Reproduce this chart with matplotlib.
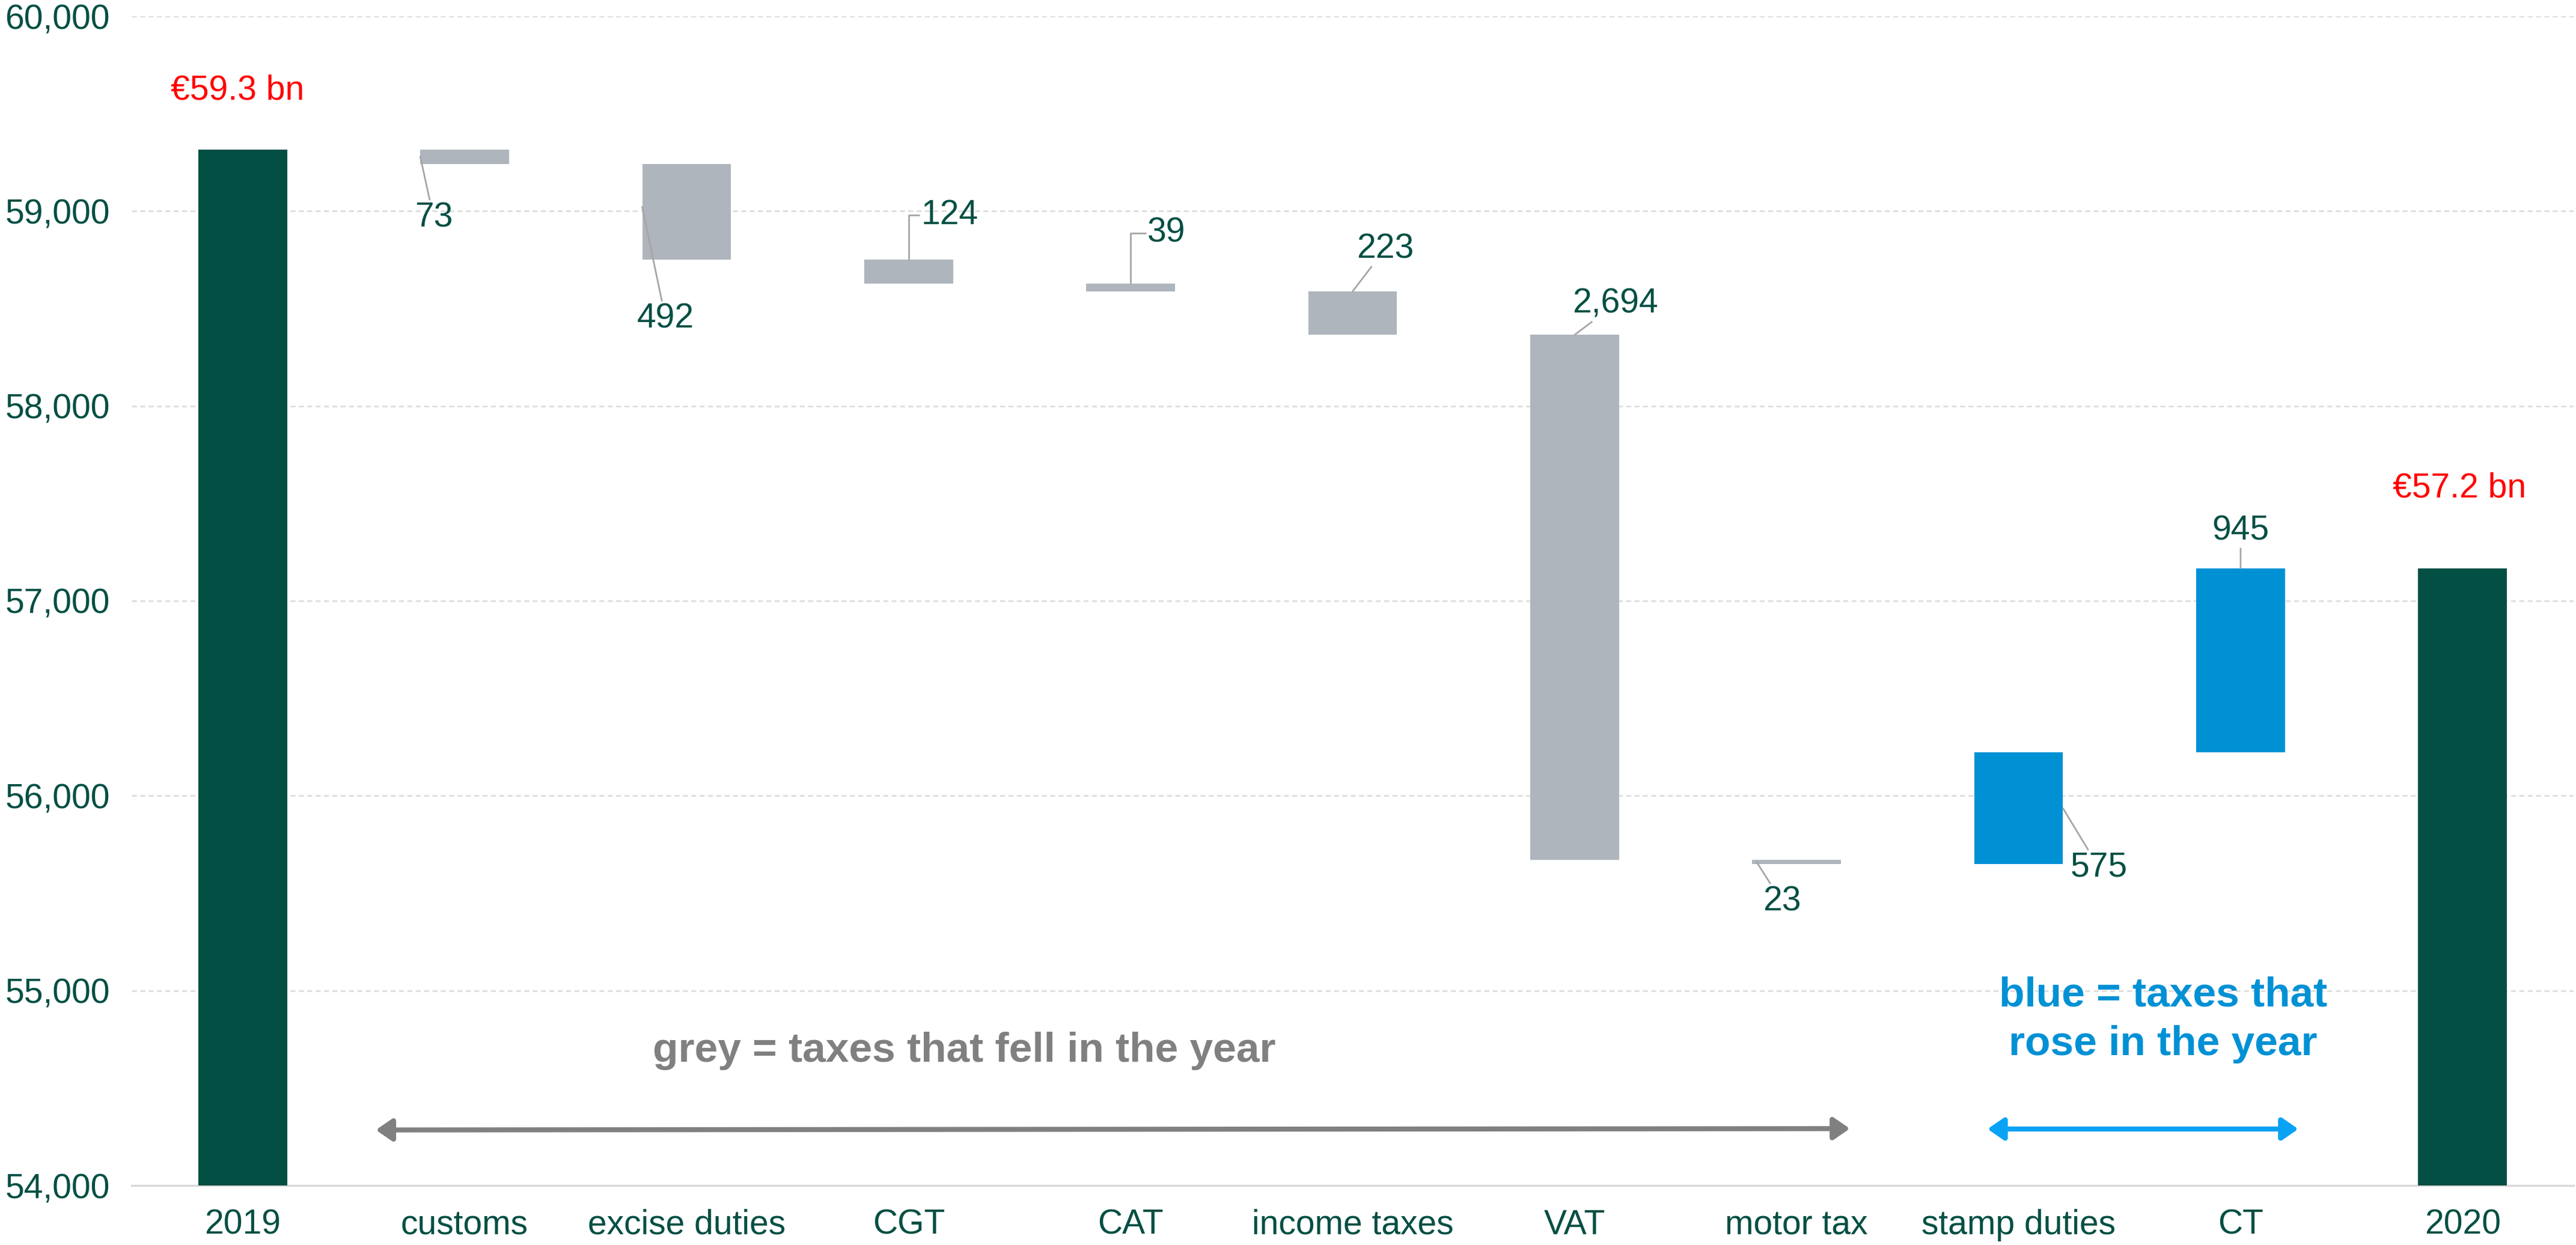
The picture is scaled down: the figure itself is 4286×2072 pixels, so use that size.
import matplotlib.pyplot as plt
from matplotlib.ticker import FuncFormatter

# Irish tax receipts 2019 -> 2020, EUR million
categories = ['2019', 'customs', 'excise duties', 'CGT', 'CAT', 'income taxes',
              'VAT', 'motor tax', 'stamp duties', 'CT', '2020']
start_total = 59316
changes = [-73, -492, -124, -39, -223, -2694, -23, 575, 945]
total_labels = ['€59.3 bn', '€57.2 bn']

GREEN = '#034f43'
GREY = '#afb5bc'
BLUE = '#0091d5'
LEADER = '#a6a6a6'

plt.rcParams['font.family'] = ['Liberation Sans', 'DejaVu Sans']

fig = plt.figure(figsize=(42.86, 20.72), dpi=100)
ax = fig.add_axes([219 / 4286, 99 / 2072, (4282 - 219) / 4286, (1973 - 27) / 2072])

width = 0.4
bottoms, heights, colors = [], [], []
running = start_total
bottoms.append(0)
heights.append(start_total)
colors.append(GREEN)
for c in changes:
    if c < 0:
        bottoms.append(running + c)
        heights.append(-c)
        colors.append(GREY)
    else:
        bottoms.append(running)
        heights.append(c)
        colors.append(BLUE)
    running += c
end_total = running
bottoms.append(0)
heights.append(end_total)
colors.append(GREEN)

x = list(range(len(categories)))
ax.bar(x, heights, bottom=bottoms, width=width, color=colors, zorder=3)

ax.set_xlim(-0.5, len(categories) - 0.5)
ax.set_ylim(54000, 60000)
ax.set_yticks(range(54000, 60001, 1000))
ax.yaxis.set_major_formatter(FuncFormatter(lambda v, p: f'{int(v):,}'))
ax.set_xticks(x)
ax.set_xticklabels(categories)
ax.tick_params(axis='both', length=0, labelsize=41, colors=GREEN)
ax.tick_params(axis='y', pad=26)
ax.tick_params(axis='x', pad=28)
for s in ['top', 'right', 'left']:
    ax.spines[s].set_visible(False)
ax.spines['bottom'].set_color('#d9d9d9')
ax.spines['bottom'].set_linewidth(2.5)
ax.yaxis.grid(True, linestyle=(0, (3, 2)), color='#dddddd', linewidth=2, zorder=0)
ax.set_axisbelow(True)

# total labels
ax.annotate(total_labels[0], (0, start_total), xytext=(-6, 71), textcoords='offset points',
            ha='center', va='center', color='red', fontsize=41)
ax.annotate(total_labels[1], (len(categories) - 1, end_total), xytext=(-4, 96),
            textcoords='offset points', ha='center', va='center', color='red', fontsize=41)

# value labels: (anchor x offset in bar widths, anchor y fraction from bottom, dx, dy, elbow)
label_pos = [
    (-0.5, 0.5, 16, -73, False),
    (-0.5, 0.55, 28, -134, False),
    (0.0, 1.0, 49, 53, True),
    (0.0, 1.0, 43, 61, True),
    (0.0, 1.0, 39, 51, False),
    (0.0, 1.0, 49, 37, False),
    (-0.45, 0.5, 30, -47, False),
    (0.5, 0.5, 43, -71, False),
    (0.0, 1.0, 0, 45, False),
]
for i, (c, (fx, fy, dx, dy, elbow)) in enumerate(zip(changes, label_pos), start=1):
    ax_pt = (i + fx * width, bottoms[i] + fy * heights[i])
    props = dict(arrowstyle='-', color=LEADER, lw=2, shrinkA=0, shrinkB=0)
    if elbow:
        props['connectionstyle'] = 'angle,angleA=0,angleB=90,rad=0'
        props['relpos'] = (0, 0.5)
    ax.annotate(f'{abs(c):,}', ax_pt, xytext=(dx, dy), textcoords='offset points',
                ha='center', va='center', color=GREEN, fontsize=41, arrowprops=props)

# legend-like notes and arrows
ax.text(3.25, 54690, 'grey = taxes that fell in the year', ha='center', va='center',
        color='#808080', fontsize=50, fontweight='bold')
ax.annotate('', xy=(0.6, 54285), xytext=(7.24, 54292),
            arrowprops=dict(arrowstyle='<|-|>,head_length=1.6,head_width=1.1',
                            color='#808080', lw=6, shrinkA=0, shrinkB=0))
ax.text(8.65, 54850, 'blue = taxes that\nrose in the year', ha='center', va='center',
        color=BLUE, fontsize=50, fontweight='bold', linespacing=1.35)
ax.annotate('', xy=(7.86, 54290), xytext=(9.26, 54290),
            arrowprops=dict(arrowstyle='<|-|>,head_length=1.6,head_width=1.1',
                            color='#0aa2f5', lw=6, shrinkA=0, shrinkB=0))

fig.savefig('out.png', dpi=100, facecolor='white')
